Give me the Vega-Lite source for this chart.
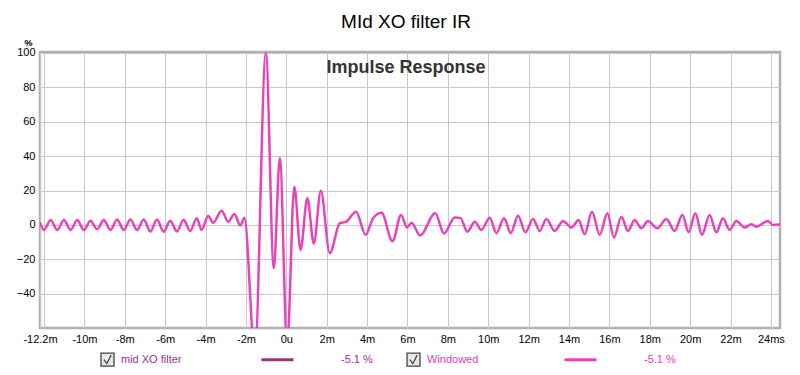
{
  "$schema": "https://vega.github.io/schema/vega-lite/v6.json",
  "width": 740,
  "height": 276,
  "autosize": {"type": "none"},
  "padding": {"left": 40, "top": 52, "right": 20, "bottom": 47},
  "background": "white",
  "title": {
    "text": "MId XO filter IR",
    "subtitle": "Impulse Response",
    "anchor": "middle",
    "frame": "group",
    "offset": -39,
    "dx": -4,
    "subtitlePadding": 27,
    "font": "Liberation Sans",
    "fontSize": 19,
    "fontWeight": "normal",
    "color": "#000000",
    "subtitleFont": "Liberation Sans",
    "subtitleFontSize": 18,
    "subtitleFontWeight": "bold",
    "subtitleColor": "#333333"
  },
  "data": {
    "values": [
      {"t": -12.2, "Windowed": 1.5}, {"t": -12.005, "Windowed": -2.9}, {"t": -11.673, "Windowed": 2.9}, {"t": -11.344, "Windowed": -2.9},
      {"t": -11.015, "Windowed": 2.9}, {"t": -10.686, "Windowed": -2.9}, {"t": -10.356, "Windowed": 2.9}, {"t": -10.027, "Windowed": -2.9},
      {"t": -9.698, "Windowed": 2.4}, {"t": -9.369, "Windowed": -2.5}, {"t": -9.04, "Windowed": 2.9}, {"t": -8.71, "Windowed": -2.9},
      {"t": -8.381, "Windowed": 3.2}, {"t": -8.052, "Windowed": -2.9}, {"t": -7.723, "Windowed": 3.2}, {"t": -7.394, "Windowed": -2.9},
      {"t": -7.064, "Windowed": 3.2}, {"t": -6.735, "Windowed": -3.8}, {"t": -6.406, "Windowed": 3.2}, {"t": -6.077, "Windowed": -4.0},
      {"t": -5.748, "Windowed": 2.5}, {"t": -5.418, "Windowed": -3.8}, {"t": -5.089, "Windowed": 3.0}, {"t": -4.76, "Windowed": -3.5},
      {"t": -4.431, "Windowed": 3.9}, {"t": -4.198, "Windowed": -2.9}, {"t": -3.871, "Windowed": 5.2}, {"t": -3.624, "Windowed": 1.3},
      {"t": -3.208, "Windowed": 8.3}, {"t": -2.881, "Windowed": 1.9}, {"t": -2.574, "Windowed": 6.4}, {"t": -2.277, "Windowed": -0.4},
      {"t": -2.079, "Windowed": 4.2}, {"t": -1.559, "Windowed": -74}, {"t": -1.015, "Windowed": 100}, {"t": -0.619, "Windowed": -25.1},
      {"t": -0.322, "Windowed": 38.7}, {"t": 0.04, "Windowed": -70}, {"t": 0.396, "Windowed": 22.2}, {"t": 0.703, "Windowed": -14.5},
      {"t": 1.04, "Windowed": 15.5}, {"t": 1.361, "Windowed": -10.8}, {"t": 1.708, "Windowed": 19.9}, {"t": 2.153, "Windowed": -16.4},
      {"t": 2.649, "Windowed": 1.0}, {"t": 2.97, "Windowed": 1.9}, {"t": 3.455, "Windowed": 7.7}, {"t": 3.926, "Windowed": -5.8},
      {"t": 4.297, "Windowed": 3.9}, {"t": 4.713, "Windowed": 7.1}, {"t": 5.257, "Windowed": -9.5}, {"t": 5.683, "Windowed": 5.8},
      {"t": 5.975, "Windowed": -1.5}, {"t": 6.198, "Windowed": 1.3}, {"t": 6.624, "Windowed": -6.1}, {"t": 7.376, "Windowed": 6.8},
      {"t": 7.807, "Windowed": -5.0}, {"t": 8.342, "Windowed": 4.3}, {"t": 8.614, "Windowed": 4.1}, {"t": 8.97, "Windowed": -3.9},
      {"t": 9.332, "Windowed": 1.9}, {"t": 9.663, "Windowed": -2.9}, {"t": 10.074, "Windowed": 4.2}, {"t": 10.406, "Windowed": -4.8},
      {"t": 10.782, "Windowed": 3.9}, {"t": 11.114, "Windowed": -4.8}, {"t": 11.475, "Windowed": 5.4}, {"t": 11.842, "Windowed": -4.3},
      {"t": 12.218, "Windowed": 3.5}, {"t": 12.55, "Windowed": -3.5}, {"t": 12.881, "Windowed": 3.5}, {"t": 13.292, "Windowed": -3.5},
      {"t": 13.703, "Windowed": 2.3}, {"t": 14.119, "Windowed": -1.5}, {"t": 14.48, "Windowed": 2.9}, {"t": 14.777, "Windowed": -5.4},
      {"t": 15.139, "Windowed": 7.7}, {"t": 15.52, "Windowed": -5.8}, {"t": 15.901, "Windowed": 6.8}, {"t": 16.228, "Windowed": -7.3},
      {"t": 16.594, "Windowed": 4.8}, {"t": 16.921, "Windowed": -3.5}, {"t": 17.252, "Windowed": 2.9}, {"t": 17.584, "Windowed": -1.9},
      {"t": 17.911, "Windowed": 2.3}, {"t": 18.376, "Windowed": -1.9}, {"t": 18.822, "Windowed": 3.5}, {"t": 19.233, "Windowed": -3.5},
      {"t": 19.614, "Windowed": 5.8}, {"t": 19.926, "Windowed": -4.3}, {"t": 20.257, "Windowed": 6.8}, {"t": 20.584, "Windowed": -5.8},
      {"t": 20.965, "Windowed": 5.8}, {"t": 21.297, "Windowed": -4.3}, {"t": 21.624, "Windowed": 3.9}, {"t": 21.955, "Windowed": -2.9},
      {"t": 22.287, "Windowed": 2.3}, {"t": 22.698, "Windowed": -1.5}, {"t": 23.03, "Windowed": 0.4}, {"t": 23.277, "Windowed": -1.0},
      {"t": 23.851, "Windowed": 2.3}, {"t": 24.099, "Windowed": 0.0}, {"t": 24.45, "Windowed": 0.2}
    ]
  },
  "transform": [{"fold": ["Windowed"], "as": ["series", "v"]}],
  "mark": {"type": "line", "interpolate": "monotone", "strokeWidth": 2.5, "clip": true},
  "encoding": {
    "x": {
      "field": "t",
      "type": "quantitative",
      "scale": {"domain": [-12.2, 24.45], "nice": false, "zero": false},
      "axis": {
        "values": [-12.2, -12, -10, -8, -6, -4, -2, 0, 2, 4, 6, 8, 10, 12, 14, 16, 18, 20, 22, 24],
        "labelExpr": "datum.value == -12 ? '' : datum.value == 0 ? '0u' : datum.value == 24 ? '24ms' : datum.value + 'm'",
        "title": null,
        "ticks": false,
        "domain": false,
        "grid": true,
        "gridColor": "#c8c8c8",
        "gridWidth": 1,
        "labelFont": "Liberation Sans",
        "labelFontSize": 11,
        "labelColor": "#000000",
        "labelPadding": 5,
        "labelOverlap": false,
        "labelFlush": false,
        "labelBound": false
      }
    },
    "y": {
      "field": "v",
      "type": "quantitative",
      "scale": {"domain": [-59.9, 100.5], "nice": false, "zero": false},
      "axis": {
        "values": [-40, -20, 0, 20, 40, 60, 80, 100],
        "title": "%",
        "titleAngle": 0,
        "titleX": -12,
        "titleY": -5,
        "titleAlign": "center",
        "titleBaseline": "bottom",
        "titleFont": "Liberation Sans",
        "titleFontSize": 9,
        "titleFontWeight": "bold",
        "titleColor": "#000000",
        "ticks": false,
        "domain": false,
        "grid": true,
        "gridColor": "#c8c8c8",
        "gridWidth": 1,
        "labelFont": "Liberation Sans",
        "labelFontSize": 11,
        "labelColor": "#000000",
        "labelPadding": 5
      }
    },
    "color": {
      "field": "series",
      "type": "nominal",
      "scale": {"domain": ["mid XO filter", "Windowed"], "range": ["#993377", "#e844b8"]},
      "legend": {
        "orient": "none",
        "legendX": 220,
        "legendY": 290,
        "direction": "horizontal",
        "title": null,
        "padding": 0,
        "symbolType": "stroke",
        "symbolSize": 1024,
        "symbolStrokeWidth": 3,
        "labelExpr": "'-5.1 %'",
        "labelOffset": 46,
        "labelFont": "Liberation Sans",
        "labelFontSize": 11,
        "gridAlign": "all",
        "columnPadding": 185,
        "encode": {
          "labels": {"update": {"fill": {"signal": "datum.value == 'Windowed' ? '#e040c0' : '#993399'"}}}
        }
      }
    },
    "opacity": {
      "field": "series",
      "type": "nominal",
      "scale": {"domain": ["Windowed", "mid XO filter"], "range": [1, 1]},
      "legend": {
        "orient": "none",
        "legendX": 60,
        "legendY": 300,
        "direction": "horizontal",
        "title": null,
        "padding": 0,
        "values": ["mid XO filter", "Windowed"],
        "symbolType": "M-1,-1H1V1H-1Z M-0.55,0 L-0.1,0.6 L0.55,-0.7",
        "symbolSize": 169,
        "symbolFillColor": "#e6e6e6",
        "symbolStrokeColor": "#444444",
        "symbolStrokeWidth": 1.3,
        "labelOffset": 6,
        "labelFont": "Liberation Sans",
        "labelFontSize": 11,
        "gridAlign": "all",
        "columnPadding": 222,
        "encode": {
          "symbols": {"update": {"fill": {"value": "#e6e6e6"}, "stroke": {"value": "#444444"}, "strokeWidth": {"value": 1.3}}},
          "labels": {"update": {"fill": {"signal": "datum.value == 'Windowed' ? '#e040c0' : '#993399'"}}}
        }
      }
    }
  },
  "config": {
    "view": {"stroke": "#b0b0b0", "strokeWidth": 2.5}
  }
}
